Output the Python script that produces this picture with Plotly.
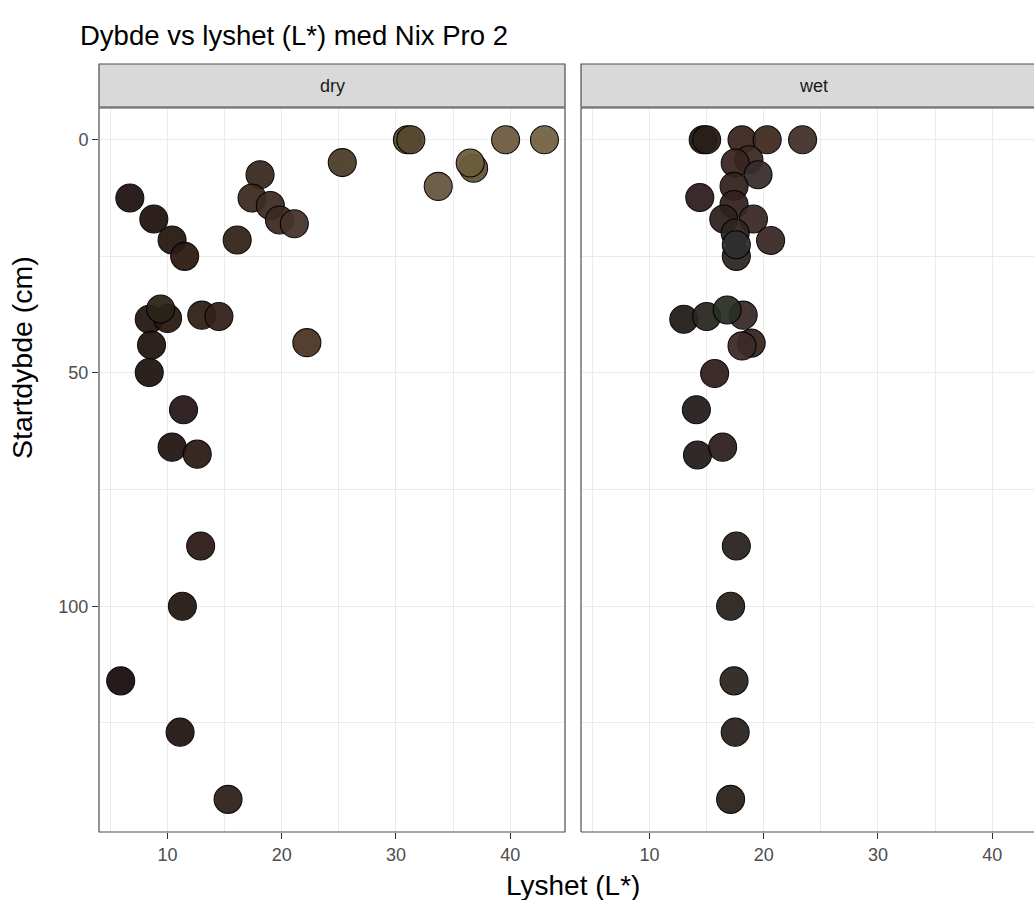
import plotly.graph_objects as go

# Nix Pro 2 readings: lightness L* against start depth, with the measured colour of each sample
dry_lightness = [6.7, 8.8, 10.4, 11.5, 16.1, 18.1, 17.4, 19.0, 19.8, 21.1, 25.3, 31.0, 31.3, 33.7, 36.8,
                 36.5, 39.6, 43.0, 8.4, 10.0, 9.4, 13.0, 14.5, 8.6, 8.4, 22.2, 11.4, 10.4, 12.6, 12.9,
                 11.3, 5.9, 11.1, 15.3]
dry_depth = [12.5, 17.0, 21.5, 25.0, 21.5, 7.5, 12.5, 14.1, 17.2, 18.0, 4.9, 0.0, 0.0, 10.0, 6.1,
             5.0, 0.0, 0.0, 38.5, 38.3, 36.3, 37.6, 37.9, 44.0, 49.9, 43.5, 57.9, 65.9, 67.4, 87.1,
             100.0, 116.0, 127.0, 141.4]
dry_hex = ["#1f1210", "#22140f", "#26180f", "#2b1a12", "#34241a", "#3a2a1f", "#3b2a1e", "#3d2c20",
           "#3b2a1f", "#45332a", "#4a3c28", "#5a4a30", "#584830", "#67553e", "#655536", "#6b5c3c",
           "#6e5a3e", "#736242", "#231711", "#28190f", "#2a2418", "#2e1f14", "#33221a", "#211510",
           "#1e1410", "#4a3425", "#27171a", "#231612", "#2b1b14", "#2c1a16", "#241810", "#180d0c",
           "#221512", "#2f1f19"]

wet_lightness = [14.7, 15.0, 18.1, 20.3, 23.4, 18.7, 17.5, 19.5, 17.4, 14.4, 17.4, 16.5, 19.1, 17.5,
                 20.6, 17.6, 17.6, 13.0, 15.0, 18.2, 16.8, 18.9, 18.1, 15.7, 14.1, 14.2, 16.4, 17.6,
                 17.1, 17.4, 17.5, 17.1]
wet_depth = [0.0, 0.0, 0.0, 0.0, 0.0, 4.3, 5.0, 7.5, 10.0, 12.4, 13.9, 17.0, 17.0, 20.0, 21.6,
             25.0, 22.5, 38.5, 37.9, 37.6, 36.5, 43.6, 44.2, 50.1, 57.9, 67.6, 65.9, 87.1, 100.0,
             116.0, 127.0, 141.4]
wet_hex = ["#231a16", "#2a1e19", "#3a251c", "#3f2a1e", "#42302a", "#3a2a22", "#3a2520", "#3a2c2c",
           "#33231f", "#2e1d1e", "#352220", "#2e221c", "#3a2826", "#2e2420", "#3b2826", "#2e2624",
           "#2e2e2e", "#231c19", "#2a2620", "#3a2a2a", "#2a2e24", "#35261f", "#3b2a28", "#321f1e",
           "#231c1a", "#231c1a", "#2e1f1f", "#2a221e", "#2a221c", "#2b241e", "#2a221e", "#2a201c"]

panels = ["dry", "wet"]
y_ticks = [0, 50, 100]
x_ticks = [10, 20, 30, 40]

W, H = 1034, 900
ML, MR, MT, MB = 99, 0, 108, 68
plot_w = W - ML - MR
plot_h = H - MT - MB
dry_dom = [0.0, 466 / plot_w]
wet_dom = [(581 - ML) / plot_w, 1.0]
x_lo, x_hi = 4.0, 44.8
# the wet facet runs past the right edge of the page; keep its scale equal to the dry one
wet_hi = x_lo + (x_hi - x_lo) * (wet_dom[1] - wet_dom[0]) / (dry_dom[1] - dry_dom[0])

FONT = "Liberation Sans, Arial, Helvetica, sans-serif"
GRID = "#ebebeb"
BORDER = "#4d4d4d"

fig = go.Figure()
for xs, ys, cols, xa, ya in [(dry_lightness, dry_depth, dry_hex, "x", "y"),
                             (wet_lightness, wet_depth, wet_hex, "x2", "y2")]:
    fig.add_trace(go.Scatter(
        x=xs, y=ys, mode="markers", xaxis=xa, yaxis=ya, showlegend=False,
        marker=dict(size=28, color=cols, opacity=0.94, line=dict(color="#000000", width=1.1)),
    ))

axis_common = dict(
    showgrid=True, gridcolor=GRID, gridwidth=1.1, zeroline=False, showline=False,
    ticks="outside", ticklen=6, tickwidth=1, tickcolor="#333333",
    tickfont=dict(family=FONT, size=18, color="#4d4d4d"),
)
x_minor = dict(tickvals=[5, 15, 25, 35, 45], showgrid=True, gridcolor=GRID, gridwidth=0.6)
y_minor = dict(tickvals=[25, 75, 125], showgrid=True, gridcolor=GRID, gridwidth=0.6)

fig.update_layout(
    width=W, height=H, margin=dict(l=ML, r=MR, t=MT, b=MB),
    paper_bgcolor="white", plot_bgcolor="white",
    font=dict(family=FONT, color="#1a1a1a"),
    title=dict(text="Dybde vs lyshet (L*) med Nix Pro 2", x=80 / W, xanchor="left",
               y=1 - 35 / H, yanchor="middle", font=dict(family=FONT, size=27.5, color="#000000")),
    xaxis=dict(domain=dry_dom, range=[x_lo, x_hi], tickvals=x_ticks, minor=x_minor, anchor="y", **axis_common),
    xaxis2=dict(domain=wet_dom, range=[x_lo, wet_hi], tickvals=x_ticks, minor=x_minor, anchor="y2", **axis_common),
    yaxis=dict(domain=[0, 1], range=[148.4, -6.8], tickvals=y_ticks, minor=y_minor, anchor="x", **axis_common),
    yaxis2=dict(domain=[0, 1], range=[148.4, -6.8], tickvals=y_ticks, minor=y_minor, anchor="x2",
                showticklabels=False, **{k: v for k, v in axis_common.items() if k != "ticks"}, ticks=""),
)

strip_lo = (H - MB - 107) / plot_h
strip_hi = (H - MB - 64) / plot_h
shapes = []
annotations = []
for name, dom, closed in [("dry", dry_dom, True), ("wet", wet_dom, False)]:
    x0p, x1p = dom
    # facet strip
    shapes.append(dict(type="rect", xref="paper", yref="paper", x0=x0p, x1=x1p + (0 if closed else 0.01),
                       y0=strip_lo, y1=strip_hi, fillcolor="#d9d9d9",
                       line=dict(color=BORDER, width=1.2), layer="above"))
    annotations.append(dict(text=name, xref="paper", yref="paper", x=(x0p + (x1p + (0 if closed else 12 / plot_w))) / 2,
                            y=(strip_lo + strip_hi) / 2, showarrow=False, xanchor="center", yanchor="middle",
                            font=dict(family=FONT, size=18, color="#1a1a1a")))
    # panel border
    if closed:
        shapes.append(dict(type="rect", xref="paper", yref="paper", x0=x0p, x1=x1p, y0=0, y1=1,
                           line=dict(color=BORDER, width=1.2), layer="above"))
    else:
        for seg in [(x0p, 0, x0p, 1), (x0p, 0, 1.01, 0), (x0p, 1, 1.01, 1)]:
            shapes.append(dict(type="line", xref="paper", yref="paper", x0=seg[0], y0=seg[1],
                               x1=seg[2], y1=seg[3], line=dict(color=BORDER, width=1.2), layer="above"))

annotations.append(dict(text="Lyshet (L*)", xref="paper", yref="paper", x=(572.5 - ML) / plot_w,
                        y=(H - MB - 885) / plot_h, showarrow=False, xanchor="center", yanchor="middle",
                        font=dict(family=FONT, size=28, color="#000000")))
annotations.append(dict(text="Startdybde (cm)", xref="paper", yref="paper", x=(22 - ML) / plot_w,
                        y=(H - MB - 358) / plot_h, showarrow=False, xanchor="center", yanchor="middle",
                        textangle=-90, font=dict(family=FONT, size=28.5, color="#000000")))

fig.update_layout(shapes=shapes, annotations=annotations)
fig.write_html("out.html")
